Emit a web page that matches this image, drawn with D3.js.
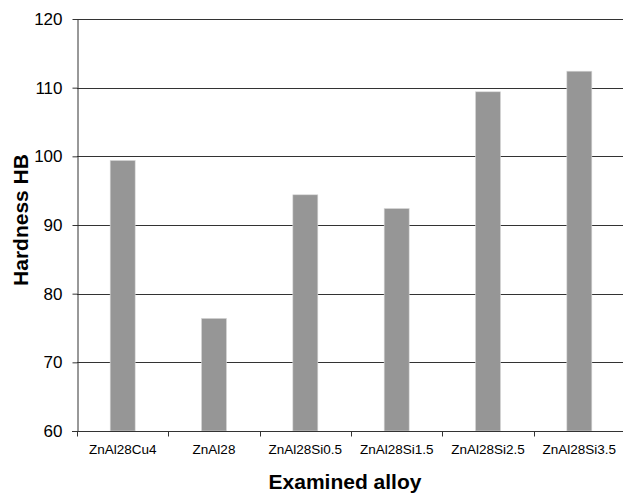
<!DOCTYPE html>
<html><head><meta charset="utf-8">
<script src="https://cdn.jsdelivr.net/npm/d3@7"></script>
<style>body{margin:0;background:#fff}svg{display:block;font-family:"Liberation Sans",Arial,sans-serif}</style>
</head><body><svg id="c" width="623" height="498"></svg>
<script>
const categories = ["ZnAl28Cu4","ZnAl28","ZnAl28Si0.5","ZnAl28Si1.5","ZnAl28Si2.5","ZnAl28Si3.5"];
const hardness = [99.4, 76.4, 94.4, 92.4, 109.4, 112.4];
const yTicks = [60,70,80,90,100,110,120];

const svg = d3.select("#c");
const FONT = "'Liberation Sans', Arial, sans-serif";
const L = 77, R = 625, T = 19, B = 431;
const xb = d3.scaleBand().domain(categories).range([L, R]);
const y = d3.scaleLinear().domain([60,120]).range([B, T]);

// gridlines
svg.append("g").selectAll("line").data(yTicks.filter(d=>d>60)).join("line")
  .attr("x1", L).attr("x2", R).attr("y1", d=>Math.round(y(d))+0.5).attr("y2", d=>Math.round(y(d))+0.5)
  .attr("stroke", "#333").attr("stroke-width", 1);

// bars
svg.append("g").selectAll("rect").data(categories).join("rect")
  .attr("x", d=>xb(d)+xb.bandwidth()/2-12.5).attr("width", 25)
  .attr("y", (d,i)=>y(hardness[i])).attr("height", (d,i)=>B-y(hardness[i]))
  .attr("fill", "#969696").attr("stroke", "#d8d8d8").attr("stroke-width", 0.6);

// y axis
const ya = svg.append("g").attr("transform", `translate(${L+0.5},0)`)
  .call(d3.axisLeft(y).tickValues(yTicks).tickSize(5).tickPadding(10).tickSizeOuter(0));
ya.select(".domain").attr("stroke", "#333");
ya.selectAll(".tick line").attr("stroke", "#333");
ya.selectAll("text").attr("font-size", 17).attr("fill", "#000").attr("font-family", FONT);

// x axis
const xa = svg.append("g").attr("transform", `translate(0,${B+0.5})`);
xa.append("line").attr("x1", L-5).attr("x2", R).attr("y1", 0).attr("y2", 0).attr("stroke", "#333").attr("stroke-width", 1.2);
xa.selectAll("line.tk").data(categories).join("line").attr("class","tk")
  .attr("x1", d=>Math.round(xb(d))+0.5).attr("x2", d=>Math.round(xb(d))+0.5)
  .attr("y1", 0).attr("y2", 5).attr("stroke", "#333");
xa.selectAll("text").data(categories).join("text")
  .attr("x", d=>xb(d)+xb.bandwidth()/2).attr("y", 22)
  .attr("text-anchor", "middle").attr("font-size", 13.5).attr("fill", "#000").text(d=>d);

// titles
svg.append("text").attr("x", 345).attr("y", 489).attr("text-anchor", "middle")
  .attr("font-size", 21).attr("font-weight", "bold").text("Examined alloy");
svg.append("text").attr("transform", "translate(28,220) rotate(-90)").attr("text-anchor", "middle")
  .attr("font-size", 21).attr("font-weight", "bold").text("Hardness HB");
</script></body></html>
